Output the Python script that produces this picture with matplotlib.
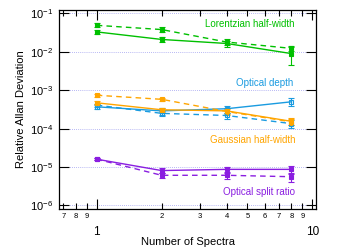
import numpy as np
import matplotlib.pyplot as plt
from matplotlib.ticker import FixedLocator, NullFormatter

plt.rcParams['font.family'] = ['Liberation Sans', 'DejaVu Sans']

# number of spectra averaged
n_spec = [1, 2, 4, 8]

# relative Allan deviation, solid (fit) and dashed series
lor_solid = [0.033, 0.021, 0.0165, 0.0090]
lor_solid_err = [0.004, 0.003, 0.003, 0.0045]
lor_dash = [0.049, 0.038, 0.018, 0.0123]
lor_dash_err = [0.006, 0.005, 0.003, 0.002]

od_solid = [3.7e-4, 2.9e-4, 3.3e-4, 5.0e-4]
od_solid_err = [0.5e-4, 0.6e-4, 0.7e-4, 1.2e-4]
od_dash = [4.1e-4, 2.5e-4, 2.2e-4, 1.35e-4]
od_dash_err = [0.4e-4, 0.4e-4, 0.4e-4, 0.3e-4]

gau_solid = [4.7e-4, 3.1e-4, 2.9e-4, 1.55e-4]
gau_solid_err = [0.4e-4, 0.4e-4, 0.5e-4, 0.3e-4]
gau_dash = [7.4e-4, 5.8e-4, 2.8e-4, 1.5e-4]
gau_dash_err = [0.8e-4, 0.6e-4, 0.5e-4, 0.25e-4]

spl_solid = [1.6e-5, 8.1e-6, 8.7e-6, 8.7e-6]
spl_solid_err = [1.0e-6, 1.2e-6, 1.6e-6, 2.2e-6]
spl_dash = [1.6e-5, 6.1e-6, 6.1e-6, 5.6e-6]
spl_dash_err = [1.0e-6, 1.0e-6, 1.2e-6, 1.5e-6]

green = '#00c000'
blue = '#1a9be0'
orange = '#ffa500'
purple = '#8a1ee0'

fig = plt.figure(figsize=(3.42, 2.49), dpi=100)
ax = fig.add_axes([0.1725, 0.161, 0.7515, 0.799])

def series(y, e, c, ls, mfc):
    ax.errorbar(n_spec, y, yerr=e, color=c, ls=ls, lw=1.0, marker='s', ms=3.5,
                mfc=mfc, mec=c, mew=0.8, capsize=2, elinewidth=0.8, capthick=0.8,
                dashes=(4, 3) if ls == '--' else (None, None))

series(lor_solid, lor_solid_err, green, '-', green)
series(lor_dash, lor_dash_err, green, '--', green)
series(od_solid, od_solid_err, blue, '-', 'none')
series(od_dash, od_dash_err, blue, '--', 'none')
series(gau_solid, gau_solid_err, orange, '-', orange)
series(gau_dash, gau_dash_err, orange, '--', orange)
series(spl_solid, spl_solid_err, purple, '-', purple)
series(spl_dash, spl_dash_err, purple, '--', purple)

ax.set_xscale('log')
ax.set_yscale('log')
ax.set_xlim(0.668, 10.4)
ax.set_ylim(10**-6.09, 10**-0.91)

for d in range(-6, 0):
    ax.axhline(10.0**d, color='#a0a0f0', lw=0.6, ls=(0, (1, 1.5)), zorder=0)

ax.xaxis.set_major_locator(FixedLocator([1, 10]))
minors = [0.7, 0.8, 0.9, 2, 3, 4, 5, 6, 7, 8, 9]
ax.xaxis.set_minor_locator(FixedLocator(minors))
ax.set_xticklabels(['1', '10'])
ax.set_xticklabels(['7', '8', '9', '2', '3', '4', '5', '6', '7', '8', '9'], minor=True)
ax.tick_params(axis='x', which='major', labelsize=8.5, pad=12, length=7, width=0.8,
               direction='in', top=True)
ax.tick_params(axis='x', which='minor', labelsize=5.5, pad=3, length=4, width=0.8,
               direction='in', top=True)

ax.set_yticks([1e-6, 1e-5, 1e-4, 1e-3, 1e-2, 1e-1])
ax.yaxis.set_minor_locator(FixedLocator([]))
ax.tick_params(axis='y', which='major', labelsize=8, length=7, width=0.8,
               direction='in', right=True, pad=4)
for s in ax.spines.values():
    s.set_linewidth(0.9)

ax.set_xlabel('Number of Spectra', fontsize=8, va='center')
ax.xaxis.set_label_coords(0.5, -0.168)
ax.set_ylabel('Relative Allan Deviation', fontsize=8, labelpad=3)

ax.text(0.918, 0.93, 'Lorentzian half-width', color=green, fontsize=7,
        ha='right', va='center', transform=ax.transAxes)
ax.text(0.911, 0.633, 'Optical depth', color=blue, fontsize=7,
        ha='right', va='center', transform=ax.transAxes)
ax.text(0.922, 0.348, 'Gaussian half-width', color=orange, fontsize=7,
        ha='right', va='center', transform=ax.transAxes)
ax.text(0.918, 0.087, 'Optical split ratio', color=purple, fontsize=7,
        ha='right', va='center', transform=ax.transAxes)

fig.savefig('out.png', dpi=100)
